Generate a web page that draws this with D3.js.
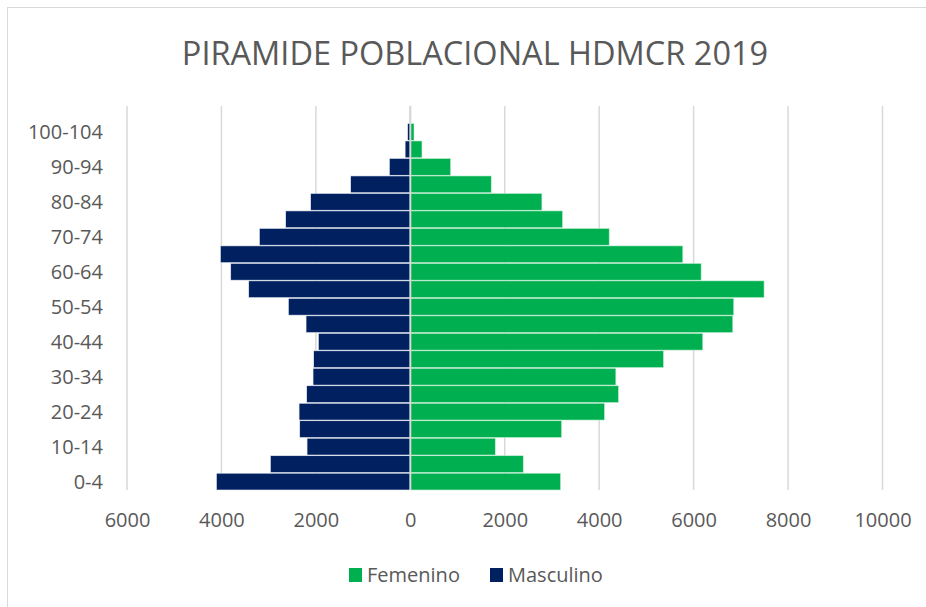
<!DOCTYPE html>
<html>
<head>
<meta charset="utf-8">
<script src="https://cdn.jsdelivr.net/npm/d3@7"></script>
<style>
  body { margin: 0; background: #fff; }
  svg { display: block; }
</style>
</head>
<body>
<script>
// age groups, bottom to top (last one has no label in the original)
var grupos = ['0-4', '5-9', '10-14', '15-19', '20-24', '25-29', '30-34', '35-39',
  '40-44', '45-49', '50-54', '55-59', '60-64', '65-69', '70-74', '75-79',
  '80-84', '85-89', '90-94', '95-99', '100-104', '105+'];
var femenino = [3182, 2392, 1799, 3203, 4113, 4409, 4353, 5362, 6194, 6829,
  6850, 7492, 6159, 5771, 4212, 3224, 2787, 1714, 854, 247, 78, 12];
var masculino = [4106, 2963, 2187, 2342, 2356, 2194, 2060, 2046, 1947, 2208,
  2582, 3422, 3803, 4021, 3196, 2639, 2110, 1263, 444, 110, 57, 12];
var xTicks = [-6000, -4000, -2000, 0, 2000, 4000, 6000, 8000, 10000];
var titulo = 'PIRAMIDE POBLACIONAL HDMCR 2019';

var W = 926, H = 607,
    verde = '#00b050', azul = '#002060', gris = '#595959', linea = '#d9d9d9',
    font = '"Open Sans", sans-serif';

var svg = d3.select('body').append('svg').attr('width', W).attr('height', H);

// chart frame
svg.append('rect')
  .attr('x', 7.5).attr('y', 7.5).attr('width', W).attr('height', H)
  .attr('fill', '#fff').attr('stroke', linea);

svg.append('text')
  .attr('x', 475).attr('y', 65)
  .attr('text-anchor', 'middle')
  .style('font-family', font).style('font-size', '32.5px')
  .attr('fill', gris)
  .text(titulo);

var x = d3.scaleLinear().domain([-6000, 10000]).range([127, 882.5]);
var y = d3.scaleBand().domain(grupos.slice().reverse()).range([106, 490])
  .paddingInner(0.04);

// vertical gridlines
svg.append('g').selectAll('line').data(xTicks.filter(function(d) { return d !== 0; }))
  .enter().append('line')
  .attr('x1', x).attr('x2', x)
  .attr('y1', 106).attr('y2', 490)
  .attr('stroke', linea).attr('stroke-width', 1.5);

var filas = grupos.map(function(g, i) {
  return { g: g, f: femenino[i], m: masculino[i] };
});

svg.append('g').selectAll('rect').data(filas).enter().append('rect')
  .attr('x', function(d) { return x(-d.m); })
  .attr('y', function(d) { return y(d.g); })
  .attr('width', function(d) { return x(0) - x(-d.m); })
  .attr('height', y.bandwidth())
  .attr('fill', azul)
  .attr('stroke', '#e8ecf4').attr('stroke-width', 0.6);

svg.append('g').selectAll('rect').data(filas).enter().append('rect')
  .attr('x', x(0))
  .attr('y', function(d) { return y(d.g); })
  .attr('width', function(d) { return x(d.f) - x(0); })
  .attr('height', y.bandwidth())
  .attr('fill', verde)
  .attr('stroke', '#c8eed6').attr('stroke-width', 0.6);

// zero axis
svg.append('line')
  .attr('x1', x(0)).attr('x2', x(0))
  .attr('y1', 106).attr('y2', 490)
  .attr('stroke', linea).attr('stroke-width', 2);

// category labels, every other group
svg.append('g').selectAll('text')
  .data(grupos.filter(function(g, i) { return i % 2 === 0; }))
  .enter().append('text')
  .attr('x', 103)
  .attr('y', function(d) { return y(d) + y.bandwidth() / 2; })
  .attr('dy', '0.35em')
  .attr('text-anchor', 'end')
  .style('font-family', font).style('font-size', '20px')
  .attr('fill', gris)
  .text(function(d) { return d; });

// x axis labels (absolute values)
var xAxis = d3.axisBottom(x).tickValues(xTicks)
  .tickFormat(function(d) { return Math.abs(d); })
  .tickSize(0).tickPadding(0);

svg.append('g')
  .attr('transform', 'translate(0,513)')
  .call(xAxis)
  .call(function(g) {
    g.select('.domain').remove();
    g.selectAll('text')
      .style('font-family', font).style('font-size', '20px')
      .attr('fill', gris);
  });

// legend
var leyenda = [
  { nombre: 'Femenino', color: verde, x: 349 },
  { nombre: 'Masculino', color: azul, x: 490 }
];
var lg = svg.append('g').selectAll('g').data(leyenda).enter().append('g')
  .attr('transform', function(d) { return 'translate(' + d.x + ',568)'; });
lg.append('rect').attr('width', 13).attr('height', 14).attr('fill', function(d) { return d.color; });
lg.append('text')
  .attr('x', 18).attr('y', 7).attr('dy', '0.35em')
  .style('font-family', font).style('font-size', '20px')
  .attr('fill', gris)
  .text(function(d) { return d.nombre; });
</script>
</body>
</html>
